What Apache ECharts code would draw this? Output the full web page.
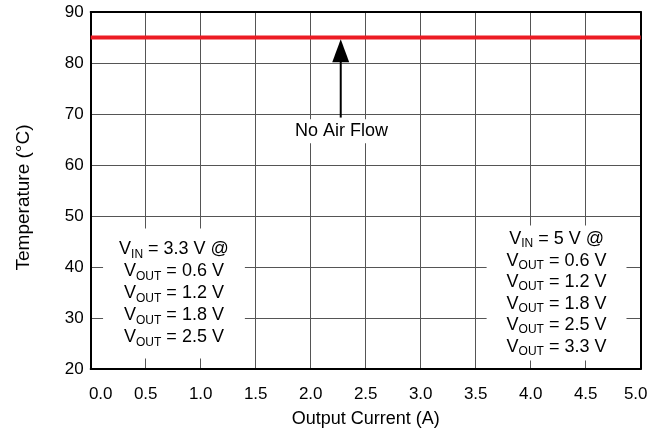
<!DOCTYPE html>
<html><head><meta charset="utf-8">
<script src="https://cdn.jsdelivr.net/npm/echarts@6/dist/echarts.min.js"></script>
<style>html,body{margin:0;padding:0;background:#fff}#c{width:664px;height:433px}</style>
</head><body><div id="c"></div>
<script>
// ---- data ----
const xTickLabels = ['0.0','0.5','1.0','1.5','2.0','2.5','3.0','3.5','4.0','4.5','5.0'];
const yTickLabels = ['20','30','40','50','60','70','80','90'];
const currentRange = [0, 5];
const ambientLimit = [85, 85];
const arrowShaft = [[2.273, 69.3], [2.273, 80.5]];
const arrowHead = [[2.273, 82.4]];
const noteText = 'No Air Flow';
const notePos = [2.28, 66.6];
const vin33 = '3.3 V';
const vout33 = ['0.6 V', '1.2 V', '1.8 V', '2.5 V'];
const box33Pos = [0.757, 34.82];
const vin5 = '5 V';
const vout5 = ['0.6 V', '1.2 V', '1.8 V', '2.5 V', '3.3 V'];
const box5Pos = [4.235, 34.92];

const FONT = 'Arial, "Liberation Sans", Helvetica, sans-serif';

function boxText(vin, vouts) {
  const lines = ['{v|V}{s|IN}{t| = ' + vin + ' @}'];
  vouts.forEach(v => lines.push('{v|V}{s|OUT}{t| = ' + v + '}'));
  return lines.join('\n');
}
function richStyles(lh) {
  return {
    v: {fontSize: 18, lineHeight: lh, fontFamily: FONT, color: '#000', verticalAlign: 'middle'},
    t: {fontSize: 18, lineHeight: lh, fontFamily: FONT, color: '#000', verticalAlign: 'middle'},
    s: {fontSize: 12, lineHeight: lh, fontFamily: FONT, color: '#000', verticalAlign: 'bottom'}
  };
}

const chart = echarts.init(document.getElementById('c'));
const axisLineStyle = {color: '#000', width: 2};
chart.setOption({
  animation: false,
  backgroundColor: '#fff',
  grid: {left: 90.7, right: 23.3, top: 12, bottom: 62, containLabel: false},
  xAxis: [{
    type: 'value', min: 0, max: 5, interval: 0.5,
    name: 'Output Current (A)', nameLocation: 'middle', nameGap: 41,
    nameTextStyle: {fontSize: 18, fontFamily: FONT, color: '#000'},
    axisLine: {show: true, onZero: false, lineStyle: axisLineStyle},
    axisTick: {show: false},
    axisLabel: {
      fontSize: 17, fontFamily: FONT, color: '#000', margin: 17,
      formatter: function (v) {
        const i = Math.round(v / 0.5);
        const s = xTickLabels[i];
        if (i === 0) return '{f|' + s + '}';
        if (i === xTickLabels.length - 1) return '{l|' + s + '}';
        return s;
      },
      rich: {
        f: {fontSize: 17, fontFamily: FONT, color: '#000', padding: [0, 0, 0, 20]},
        l: {fontSize: 17, fontFamily: FONT, color: '#000', padding: [0, 10, 0, 0]}
      }
    },
    splitLine: {show: true, lineStyle: {color: '#555', width: 1}}
  }, {
    type: 'value', position: 'top', min: 0, max: 5,
    axisLine: {show: true, onZero: false, lineStyle: axisLineStyle},
    axisTick: {show: false}, axisLabel: {show: false}, splitLine: {show: false}
  }],
  yAxis: [{
    type: 'value', min: 20, max: 90, interval: 10,
    name: 'Temperature (°C)', nameLocation: 'middle', nameGap: 57, nameRotate: 90,
    nameTextStyle: {fontSize: 19, fontFamily: FONT, color: '#000', padding: [0, 14, 0, 0]},
    axisLine: {show: true, onZero: false, lineStyle: axisLineStyle},
    axisTick: {show: false},
    axisLabel: {
      fontSize: 17, fontFamily: FONT, color: '#000', margin: 7,
      formatter: function (v) { return yTickLabels[Math.round((v - 20) / 10)]; }
    },
    splitLine: {show: true, lineStyle: {color: '#555', width: 1}}
  }, {
    type: 'value', position: 'right', min: 20, max: 90,
    axisLine: {show: true, onZero: false, lineStyle: axisLineStyle},
    axisTick: {show: false}, axisLabel: {show: false}, splitLine: {show: false}
  }],
  series: [
    {
      type: 'line', name: 'limit', symbol: 'none', z: 5,
      data: [[currentRange[0], ambientLimit[0]], [currentRange[1], ambientLimit[1]]],
      lineStyle: {color: '#ec1c24', width: 4}
    },
    {
      type: 'line', name: 'shaft', symbol: 'none', z: 6,
      data: arrowShaft,
      lineStyle: {color: '#000', width: 2}
    },
    {
      type: 'scatter', name: 'head', symbol: 'triangle', symbolSize: [17, 23], z: 6,
      data: arrowHead,
      itemStyle: {color: '#000', opacity: 1}
    },
    {
      type: 'scatter', name: 'notes', symbolSize: 1, z: 7,
      itemStyle: {color: '#fff', opacity: 1},
      data: [
        {value: notePos, label: {
          show: true, position: 'inside', formatter: noteText,
          fontSize: 18, fontFamily: FONT, color: '#000', opacity: 1,
          backgroundColor: '#fff', padding: [3, 4, 3, 4]
        }},
        {value: box33Pos, label: {
          show: true, position: 'inside', formatter: boxText(vin33, vout33),
          backgroundColor: '#fff', padding: [10, 16, 10, 16], opacity: 1,
          rich: richStyles(22)
        }},
        {value: box5Pos, label: {
          show: true, position: 'inside', formatter: boxText(vin5, vout5),
          backgroundColor: '#fff', padding: [3, 20, 3, 20], opacity: 1,
          rich: richStyles(21.5)
        }}
      ]
    }
  ]
});
</script>
</body></html>
